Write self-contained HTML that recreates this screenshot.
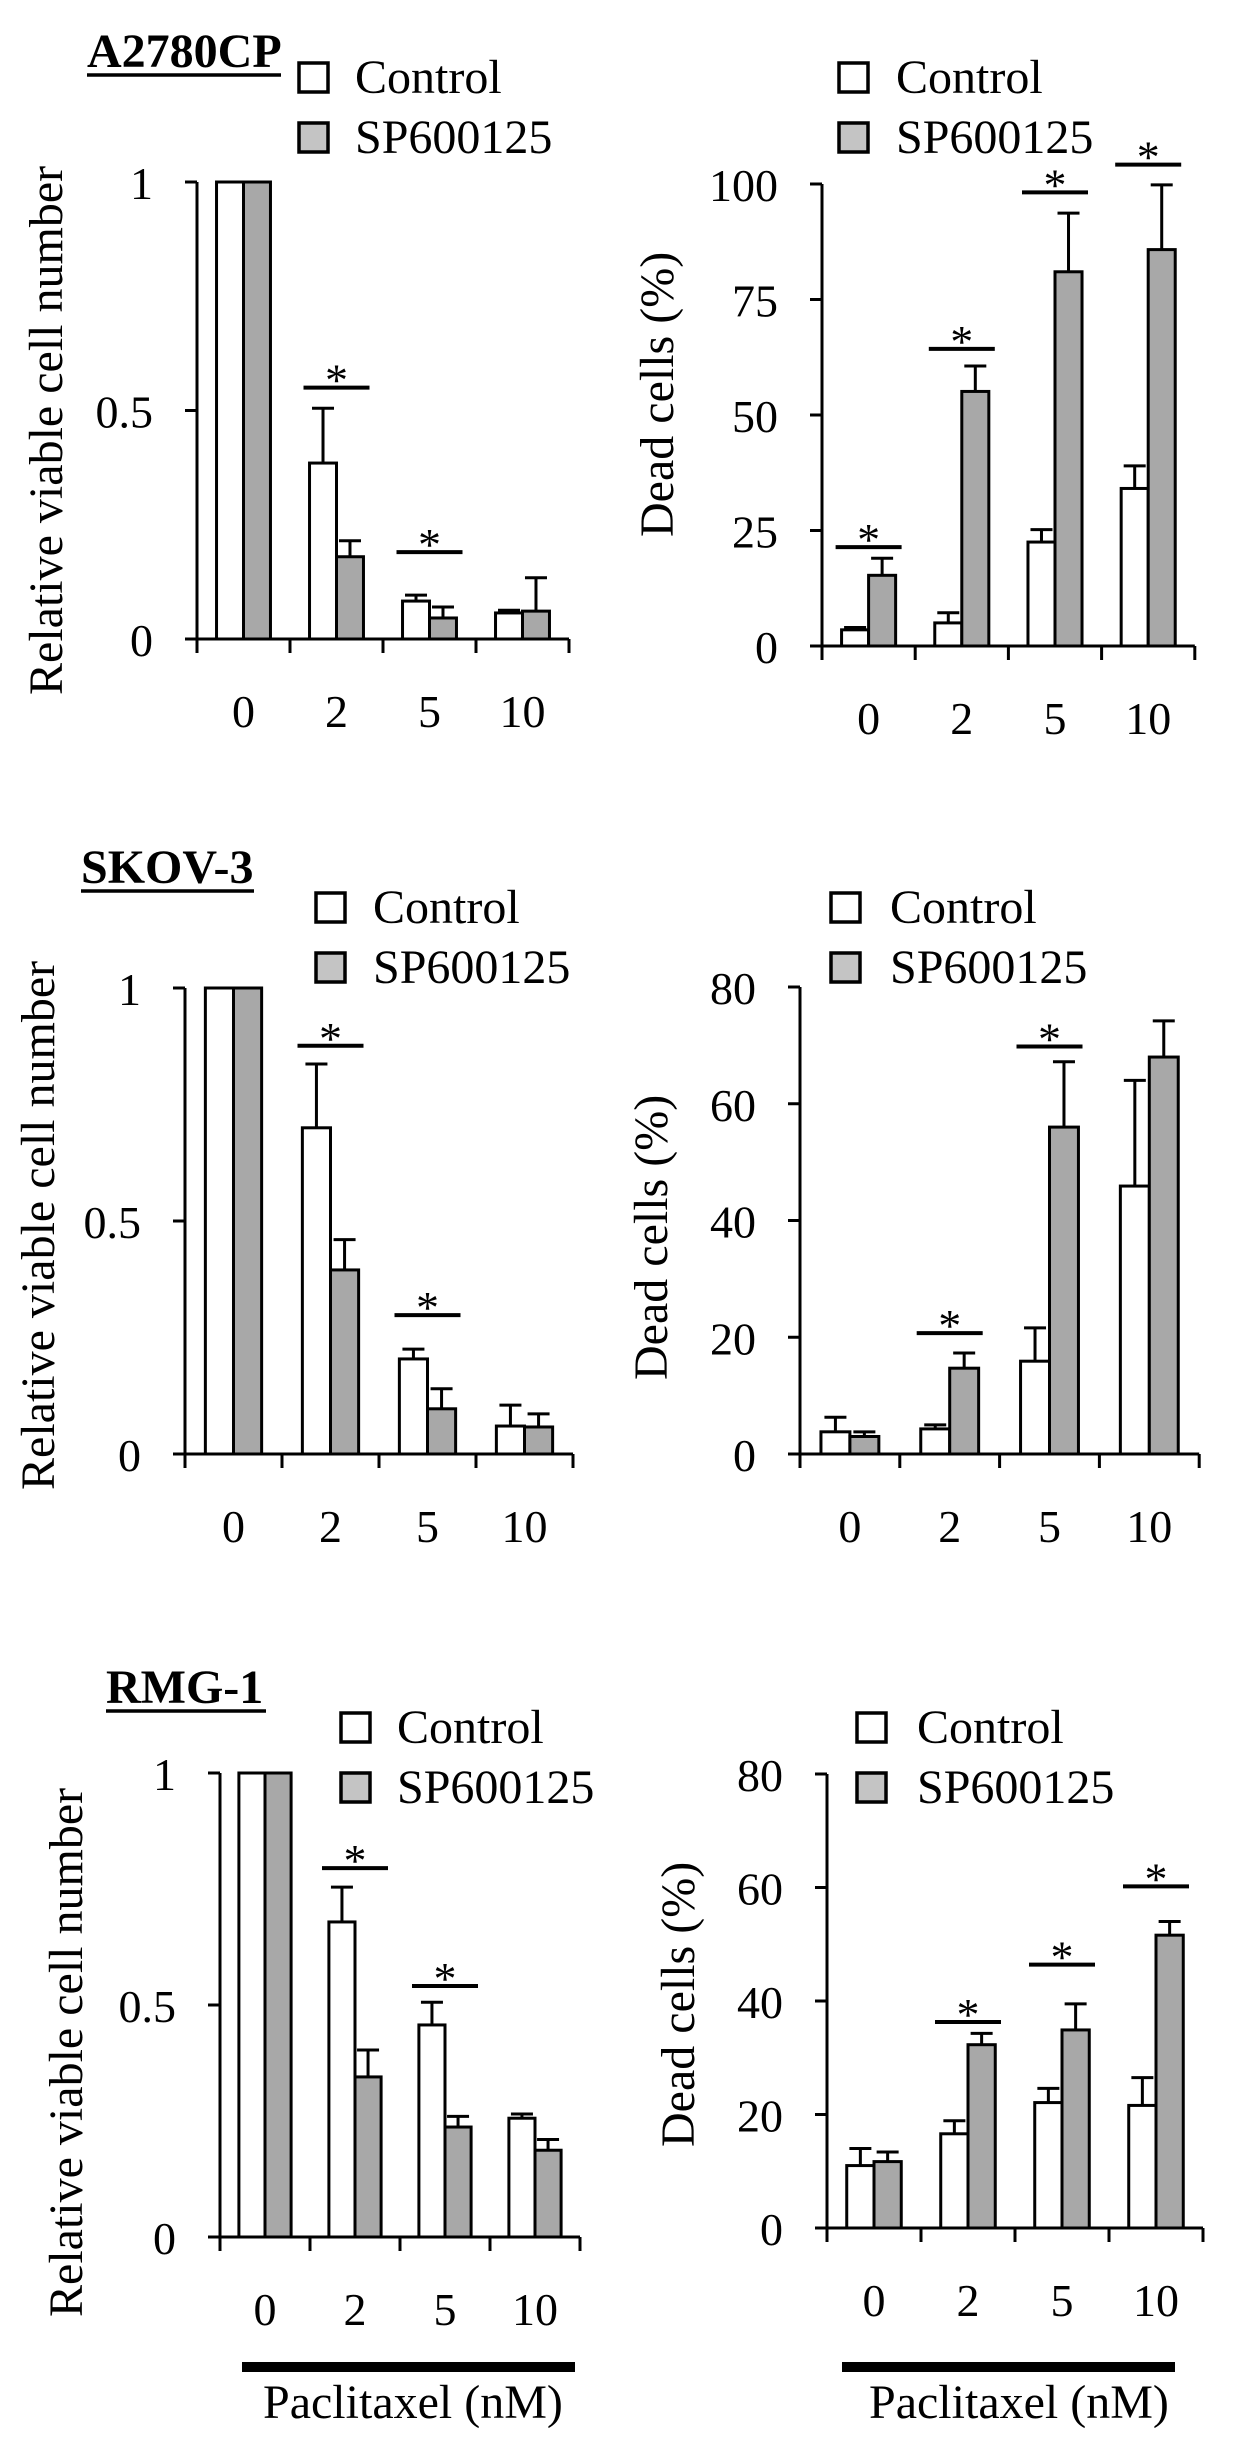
<!DOCTYPE html>
<html><head><meta charset="utf-8"><style>
html,body{margin:0;padding:0;background:#fff;}
svg{display:block;}
text{font-family:"Liberation Serif","Times New Roman",serif;fill:#000;}
</style></head><body>
<svg id="fig" width="1254" height="2454" viewBox="0 0 1254 2454" xmlns="http://www.w3.org/2000/svg"></svg>
<script>
const categories = ["0","2","5","10"];
// A2780CP viability
const tlControl = [1, 0.385, 0.083, 0.057];
const tlControlErr = [0, 0.12, 0.013, 0.006];
const tlSP = [1, 0.18, 0.046, 0.061];
const tlSPErr = [0, 0.035, 0.024, 0.073];
const tlSig = [[1, 0.55], [2, 0.19]];
// A2780CP dead cells
const trControl = [3.5, 5, 22.5, 34.1];
const trControlErr = [0.5, 2.2, 2.7, 4.9];
const trSP = [15.3, 55.1, 81, 85.8];
const trSPErr = [3.7, 5.5, 12.7, 14];
const trSig = [[0, 21.4], [1, 64.3], [2, 98.2], [3, 104.2]];
// SKOV-3 viability
const mlControl = [1, 0.70, 0.204, 0.06];
const mlControlErr = [0, 0.137, 0.021, 0.045];
const mlSP = [1, 0.395, 0.097, 0.058];
const mlSPErr = [0, 0.065, 0.043, 0.028];
const mlSig = [[1, 0.876], [2, 0.298]];
// SKOV-3 dead cells
const mrControl = [3.8, 4.3, 15.9, 45.9];
const mrControlErr = [2.5, 0.7, 5.7, 18.1];
const mrSP = [3.0, 14.7, 56, 68];
const mrSPErr = [0.8, 2.6, 11.2, 6.2];
const mrSig = [[1, 20.7], [2, 69.8]];
// RMG-1 viability
const blControl = [1, 0.679, 0.457, 0.256];
const blControlErr = [0, 0.075, 0.049, 0.009];
const blSP = [1, 0.345, 0.237, 0.187];
const blSPErr = [0, 0.058, 0.023, 0.023];
const blSig = [[1, 0.795], [2, 0.541]];
// RMG-1 dead cells
const brControl = [11, 16.6, 22.1, 21.6];
const brControlErr = [3, 2.3, 2.5, 4.9];
const brSP = [11.7, 32.3, 34.9, 51.6];
const brSPErr = [1.7, 2, 4.6, 2.4];
const brSig = [[1, 36.3], [2, 46.4], [3, 60.2]];

const viabTicks = [0, 0.5, 1];
const viabTickLabels = ["0", "0.5", "1"];
const deadTicks100 = [0, 25, 50, 75, 100];
const deadTicks80 = [0, 20, 40, 60, 80];

const NS = "http://www.w3.org/2000/svg";
const svg = document.getElementById("fig");
function mk(tag, attrs, parent) {
  const e = document.createElementNS(NS, tag);
  for (const k in attrs) e.setAttribute(k, attrs[k]);
  (parent || svg).appendChild(e);
  return e;
}
function txt(str, x, y, size, anchor, parent, extra) {
  const t = mk("text", {transform: "translate(" + x + "," + y + ")" + (extra || ""), "font-size": size, "text-anchor": anchor}, parent);
  t.textContent = str;
  return t;
}

const GRAY = "#a8a8a8";
const panels = [
  {id:"a2780cp-viability", ax:197, y0:639, ytop:182, max:1, cw:93, ticks:viabTicks, tl:viabTickLabels, c:tlControl, ce:tlControlErr, s:tlSP, se:tlSPErr, sig:tlSig, title:"Relative viable cell number", tx:62, tby:695, leg:[299,63,355], head:["A2780CP",87,67,281]},
  {id:"a2780cp-dead", ax:822, y0:646, ytop:184, max:100, cw:93.2, ticks:deadTicks100, tl:deadTicks100.map(String), c:trControl, ce:trControlErr, s:trSP, se:trSPErr, sig:trSig, title:"Dead cells (%)", tx:673, tby:537, leg:[839,63,896]},
  {id:"skov3-viability", ax:185, y0:1454, ytop:988, max:1, cw:97, ticks:viabTicks, tl:viabTickLabels, c:mlControl, ce:mlControlErr, s:mlSP, se:mlSPErr, sig:mlSig, title:"Relative viable cell number", tx:54, tby:1490, leg:[316,893,373], head:["SKOV-3",81,883,254]},
  {id:"skov3-dead", ax:800, y0:1454, ytop:987, max:80, cw:99.8, ticks:deadTicks80, tl:deadTicks80.map(String), c:mrControl, ce:mrControlErr, s:mrSP, se:mrSPErr, sig:mrSig, title:"Dead cells (%)", tx:667, tby:1380, leg:[831,893,890]},
  {id:"rmg1-viability", ax:220, y0:2237, ytop:1773, max:1, cw:90, ticks:viabTicks, tl:viabTickLabels, c:blControl, ce:blControlErr, s:blSP, se:blSPErr, sig:blSig, title:"Relative viable cell number", tx:82, tby:2317, leg:[341,1713,397], head:["RMG-1",106,1703,266], pac:[242,575,263]},
  {id:"rmg1-dead", ax:827, y0:2228, ytop:1774, max:80, cw:94, ticks:deadTicks80, tl:deadTicks80.map(String), c:brControl, ce:brControlErr, s:brSP, se:brSPErr, sig:brSig, title:"Dead cells (%)", tx:694, tby:2147, leg:[857,1713,917], pac:[842,1175,869]}
];

panels.forEach(p => {
  const g = mk("g", {});
  
  
  const yS = v => p.y0 - (v / p.max) * (p.y0 - p.ytop);
  const cx = i => p.ax + p.cw * (i + 0.5);
  const bw = p.cw * 0.29;
  for (let i = 0; i < categories.length; i++) {
    const series = [[p.c, p.ce, "#fff", "control"], [p.s, p.se, GRAY, "sp600125"]];
    series.forEach((sr, k) => {
      const x = cx(i) - bw + k * bw;
      const top = yS(sr[0][i]);
      const r = mk("rect", {x: x, y: top, width: bw, height: p.y0 - top, fill: sr[2], stroke: "#000", "stroke-width": 3}, g);
      
      
      if (sr[1][i] > 0) {
        const et = yS(sr[0][i] + sr[1][i]);
        const mx = x + bw / 2;
        const e = mk("path", {d: "M" + mx + "," + top + "V" + et + "M" + (mx - 11) + "," + et + "H" + (mx + 11), stroke: "#000", "stroke-width": 3, fill: "none"}, g);
        
        
      }
    });
  }
  const xEnd = p.ax + p.cw * 4;
  const axis = mk("path", {d: "M" + (p.ax - 12) + "," + p.y0 + "H" + xEnd + "M" + p.ax + "," + (p.y0 + 14) + "V" + p.ytop, stroke: "#000", "stroke-width": 3, fill: "none"}, g);
  
  
  for (let i = 1; i <= 4; i++) {
    const tx = p.ax + p.cw * i;
    const tk = mk("line", {x1: tx, x2: tx, y1: p.y0, y2: p.y0 + 14, stroke: "#000", "stroke-width": 3}, g);
    
    
  }
  p.ticks.forEach((v, i) => {
    const ty = yS(v);
    const tk = mk("line", {x1: p.ax - 12, x2: p.ax, y1: ty, y2: ty, stroke: "#000", "stroke-width": 3}, g);
    
    
    const lb = txt(p.tl[i], p.ax - 44, ty + 17, 46, "end", g);
    
    
  });
  categories.forEach((c, i) => {
    const lb = txt(c, cx(i), p.y0 + 88, 46, "middle", g);
    
    
  });
  p.sig.forEach(s => {
    const ly = yS(s[1]);
    const c = cx(s[0]);
    const ln = mk("line", {x1: c - 33, x2: c + 33, y1: ly, y2: ly, stroke: "#000", "stroke-width": 4}, g);
    
    
    const st = txt("*", c, ly + 8, 46, "middle", g);
    
    
  });
  const yt = txt(p.title, p.tx, p.tby, 48, "start", g, " rotate(-90)");
  
  
  const L = p.leg;
  [["Control", "#fff", 0], ["SP600125", "#c4c4c4", 60]].forEach(e => {
    const sq = mk("rect", {x: L[0], y: L[1] + e[2], width: 29, height: 29, fill: e[1], stroke: "#000", "stroke-width": 3.5}, g);
    
    
    const lt = txt(e[0], L[2], L[1] + e[2] + 30, 48, "start", g);
    
    
  });
  if (p.head) {
    const h = txt(p.head[0], p.head[1], p.head[2], 48, "start", g);
    h.setAttribute('font-weight', 'bold');
    
    
    const u = mk("line", {x1: p.head[1], x2: p.head[3], y1: p.head[2] + 8, y2: p.head[2] + 8, stroke: "#000", "stroke-width": 3.5}, g);
    
    
  }
  if (p.pac) {
    const b = mk("rect", {x: p.pac[0], y: 2362, width: p.pac[1] - p.pac[0], height: 10, fill: "#000"}, g);
    
    
    const t = txt("Paclitaxel (nM)", p.pac[2], 2418, 48, "start", g);
    
    
  }
});
</script>
</body></html>
